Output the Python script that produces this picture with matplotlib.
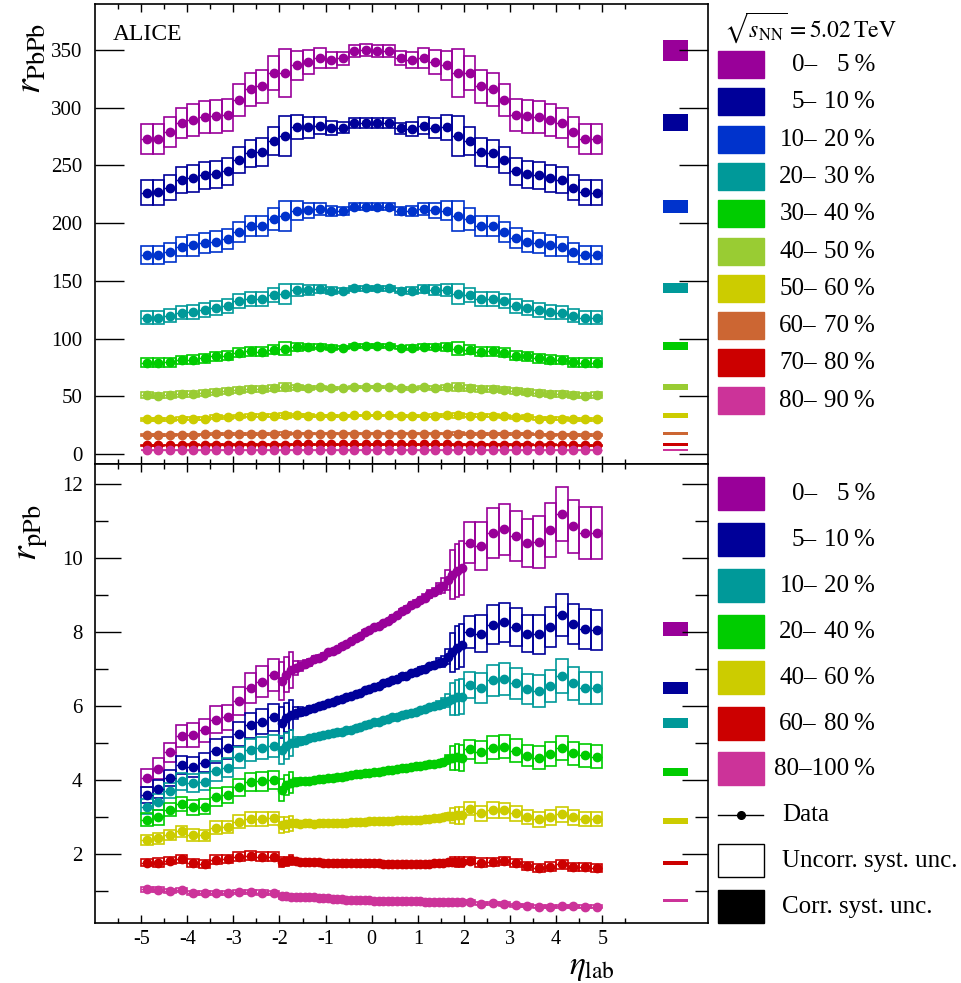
import numpy as np
import matplotlib
matplotlib.use("Agg")
import matplotlib.pyplot as plt
from matplotlib.patches import Rectangle
from matplotlib.lines import Line2D
from matplotlib.ticker import MultipleLocator

plt.rcParams['font.family'] = ['Liberation Serif', 'DejaVu Serif']
plt.rcParams['mathtext.fontset'] = 'stix'
plt.rcParams['axes.unicode_minus'] = False

# ---------------- Pb-Pb (top) ----------------
eta_pbpb = np.arange(-4.875, 5.0, 0.25)
w_pbpb = 0.25

cent_pbpb_lo = [0, 5, 10, 20, 30, 40, 50, 60, 70, 80]
cent_pbpb_hi = [5, 10, 20, 30, 40, 50, 60, 70, 80, 90]
col_pbpb = ['#990099', '#000099', '#0033cc', '#009999', '#00cc00',
            '#99cc33', '#cccc00', '#cc6633', '#cc0000', '#cc3399']

pb_0_5 = [273.0, 273.0, 279.0, 287.0, 289.4, 291.8, 292.6, 293.8, 307.0, 316.0,
          318.6, 330.0, 330.4, 336.8, 339.7, 343.0, 341.4, 342.9, 349.2, 349.8,
          349.5, 349.2, 343.0, 341.4, 343.0, 339.7, 336.8, 330.4, 330.4, 318.6,
          316.0, 307.0, 293.8, 292.6, 291.8, 289.4, 287.0, 279.0, 273.0, 273.0]
pb_5_10 = [226.4, 226.6, 230.5, 237.4, 238.9, 241.5, 242.4, 245.0, 254.5, 260.6,
           261.7, 271.0, 275.8, 283.4, 283.0, 284.5, 282.3, 282.6, 287.1, 287.0,
           287.0, 287.1, 282.3, 281.5, 284.5, 282.6, 283.0, 275.8, 271.0, 261.7,
           260.6, 254.5, 245.0, 242.4, 241.5, 238.9, 237.4, 230.5, 226.6, 226.4]
pb_10_20 = [172.4, 172.4, 175.0, 179.6, 180.8, 182.6, 184.0, 186.3, 192.6, 197.6,
            197.6, 203.6, 206.2, 210.8, 211.2, 212.3, 210.3, 210.6, 214.3, 214.3,
            214.3, 214.3, 210.6, 210.3, 212.3, 211.2, 210.8, 206.2, 203.6, 197.6,
            197.6, 192.6, 186.9, 184.0, 182.6, 180.8, 179.6, 175.0, 172.4, 172.4]
pb_20_30 = [118.1, 118.0, 119.6, 122.2, 123.3, 124.8, 126.2, 128.0, 132.3, 134.6,
            134.4, 137.5, 138.4, 142.1, 142.1, 143.0, 141.5, 141.5, 143.8, 143.8,
            143.8, 143.8, 141.5, 141.5, 143.0, 142.1, 142.1, 138.4, 137.5, 134.4,
            134.6, 132.3, 128.0, 126.2, 124.8, 123.3, 122.2, 119.6, 118.0, 118.1]
pb_30_40 = [79.1, 79.0, 79.3, 81.5, 81.6, 82.9, 84.6, 85.2, 87.8, 89.0,
            88.7, 90.4, 91.3, 93.0, 92.7, 93.0, 92.1, 92.1, 93.6, 93.6,
            93.6, 93.6, 92.1, 92.1, 93.0, 92.7, 93.0, 91.3, 90.4, 88.7,
            89.0, 87.8, 85.2, 84.6, 82.9, 81.6, 81.5, 79.3, 79.0, 79.1]
pb_40_50 = [51.1, 50.6, 50.9, 52.0, 52.0, 52.6, 53.5, 54.3, 55.7, 56.6,
            56.6, 57.2, 57.8, 57.9, 57.5, 57.8, 56.9, 57.2, 57.8, 57.8,
            57.8, 57.8, 57.2, 56.9, 57.8, 57.5, 57.9, 57.8, 57.2, 56.6,
            56.6, 55.7, 54.3, 53.5, 52.6, 52.0, 52.0, 50.9, 50.6, 51.1]
pb_50_60 = [30.0, 29.9, 29.9, 30.6, 30.6, 30.7, 31.8, 31.8, 32.6, 33.2,
            33.2, 33.2, 33.5, 33.5, 33.2, 33.2, 33.0, 33.0, 33.4, 33.4,
            33.4, 33.4, 33.0, 33.0, 33.2, 33.2, 33.5, 33.5, 33.2, 33.2,
            33.2, 32.6, 31.8, 31.8, 30.7, 30.6, 30.6, 29.9, 29.9, 30.0]
pb_60_70 = [16.5, 16.5, 16.6, 16.8, 16.8, 16.9, 17.0, 17.1, 17.3, 17.4,
            17.4, 17.5, 17.5, 17.6, 17.6, 17.6, 17.5, 17.5, 17.6, 17.6,
            17.6, 17.6, 17.5, 17.5, 17.6, 17.6, 17.6, 17.5, 17.5, 17.4,
            17.4, 17.3, 17.1, 17.0, 16.9, 16.8, 16.8, 16.6, 16.5, 16.5]
pb_70_80 = [7.6, 7.6, 7.7, 7.8, 7.8, 7.8, 7.9, 7.9, 8.0, 8.1,
            8.1, 8.1, 8.1, 8.2, 8.2, 8.2, 8.2, 8.2, 8.2, 8.2,
            8.2, 8.2, 8.2, 8.2, 8.2, 8.2, 8.2, 8.1, 8.1, 8.1,
            8.1, 8.0, 7.9, 7.9, 7.8, 7.8, 7.8, 7.7, 7.6, 7.6]
pb_80_90 = [3.2, 3.2, 3.2, 3.3, 3.3, 3.3, 3.3, 3.4, 3.4, 3.4,
            3.4, 3.5, 3.5, 3.5, 3.5, 3.5, 3.5, 3.5, 3.5, 3.5,
            3.5, 3.5, 3.5, 3.5, 3.5, 3.5, 3.5, 3.5, 3.5, 3.4,
            3.4, 3.4, 3.4, 3.3, 3.3, 3.3, 3.3, 3.2, 3.2, 3.2]

# uncorrelated syst. (relative, %) per eta bin
syst_pbpb = [4.7, 4.7, 4.7, 4.6, 4.9, 4.8, 4.8, 4.7, 4.5, 4.5,
             4.5, 4.5, 6.3, 3.8, 3.1, 2.6, 2.1, 1.7, 1.5, 1.5,
             1.5, 1.5, 1.7, 2.1, 2.6, 3.1, 3.8, 6.3, 4.5, 4.5,
             4.5, 4.5, 4.7, 4.8, 4.8, 4.9, 4.6, 4.7, 4.7, 4.7]
# correlated syst. (absolute)
corr_pbpb = [8.7, 7.2, 5.6, 4.0, 3.3, 2.5, 1.9, 1.4, 1.0, 0.8]

# ---------------- p-Pb (bottom) ----------------
eta_ppb = np.concatenate([np.arange(-4.875, -2.0, 0.25),
                          np.round(np.arange(-1.95, 2.0, 0.1), 2),
                          np.arange(2.125, 5.0, 0.25)])
w_ppb = np.concatenate([np.full(12, 0.25), np.full(40, 0.1), np.full(12, 0.25)])

cent_ppb_lo = [0, 5, 10, 20, 40, 60, 80]
cent_ppb_hi = [5, 10, 20, 40, 60, 80, 100]
col_ppb = ['#990099', '#000099', '#009999', '#00cc00', '#cccc00', '#cc0000', '#cc3399']

pp_0_5 = [4.05, 4.31, 4.75, 5.20, 5.22, 5.34, 5.63, 5.69, 6.14, 6.49, 6.66, 6.84,
          6.68, 6.85, 6.97, 7.03, 7.08, 7.14, 7.18, 7.27, 7.31, 7.36,
          7.45, 7.49, 7.55, 7.63, 7.67, 7.75, 7.85, 7.90, 7.99, 8.05,
          8.13, 8.17, 8.25, 8.30, 8.39, 8.45, 8.56, 8.63, 8.73, 8.79,
          8.87, 8.93, 9.03, 9.09, 9.18, 9.25, 9.41, 9.55, 9.66, 9.74,
          10.41, 10.33, 10.67, 10.77, 10.60, 10.41, 10.44, 10.76, 11.19, 10.86, 10.68, 10.67]
pp_5_10 = [3.59, 3.75, 4.05, 4.41, 4.36, 4.47, 4.78, 4.87, 5.23, 5.48, 5.58, 5.69,
           5.55, 5.68, 5.76, 5.80, 5.85, 5.87, 5.93, 5.95, 6.01, 6.03,
           6.08, 6.10, 6.16, 6.18, 6.23, 6.26, 6.32, 6.35, 6.42, 6.45,
           6.52, 6.55, 6.62, 6.64, 6.71, 6.73, 6.80, 6.82, 6.89, 6.91,
           6.98, 7.01, 7.07, 7.10, 7.17, 7.20, 7.33, 7.45, 7.58, 7.64,
           8.00, 7.95, 8.20, 8.26, 8.14, 7.95, 7.94, 8.13, 8.46, 8.21, 8.08, 8.05]
pp_10_20 = [3.28, 3.41, 3.71, 3.96, 3.91, 3.95, 4.24, 4.33, 4.61, 4.81, 4.86, 4.92,
            4.81, 4.92, 4.99, 5.02, 5.06, 5.08, 5.13, 5.15, 5.19, 5.21,
            5.24, 5.26, 5.29, 5.30, 5.34, 5.36, 5.41, 5.43, 5.48, 5.51,
            5.56, 5.58, 5.63, 5.65, 5.69, 5.71, 5.76, 5.78, 5.82, 5.84,
            5.89, 5.91, 5.97, 5.99, 6.04, 6.07, 6.14, 6.20, 6.23, 6.25,
            6.57, 6.49, 6.69, 6.74, 6.61, 6.45, 6.41, 6.54, 6.81, 6.61, 6.49, 6.48]
pp_20_40 = [2.92, 2.99, 3.19, 3.35, 3.26, 3.28, 3.54, 3.60, 3.80, 3.94, 3.96, 4.00,
            3.73, 3.86, 3.93, 3.94, 3.96, 3.96, 3.98, 3.99, 4.02, 4.03,
            4.05, 4.06, 4.08, 4.09, 4.12, 4.13, 4.16, 4.17, 4.19, 4.20,
            4.22, 4.22, 4.25, 4.26, 4.28, 4.29, 4.32, 4.33, 4.36, 4.37,
            4.39, 4.40, 4.42, 4.43, 4.45, 4.48, 4.56, 4.60, 4.62, 4.60,
            4.83, 4.75, 4.87, 4.90, 4.79, 4.66, 4.60, 4.70, 4.86, 4.72, 4.67, 4.63]
pp_40_60 = [2.38, 2.42, 2.51, 2.62, 2.51, 2.51, 2.71, 2.74, 2.87, 2.95, 2.95, 2.96,
            2.78, 2.80, 2.83, 2.83, 2.82, 2.83, 2.83, 2.82, 2.83, 2.84,
            2.84, 2.83, 2.84, 2.85, 2.85, 2.86, 2.86, 2.87, 2.87, 2.88,
            2.88, 2.89, 2.90, 2.90, 2.90, 2.91, 2.91, 2.92, 2.92, 2.92,
            2.93, 2.94, 2.95, 2.96, 2.97, 2.99, 3.02, 3.04, 3.05, 3.05,
            3.23, 3.10, 3.19, 3.18, 3.10, 3.01, 2.94, 2.99, 3.08, 2.99, 2.95, 2.95]
pp_60_80 = [1.77, 1.77, 1.82, 1.86, 1.75, 1.73, 1.84, 1.86, 1.93, 1.96, 1.93, 1.93,
            1.79, 1.80, 1.84, 1.80, 1.79, 1.79, 1.78, 1.78, 1.78, 1.77,
            1.77, 1.76, 1.76, 1.76, 1.75, 1.75, 1.75, 1.75, 1.75, 1.75,
            1.75, 1.75, 1.74, 1.74, 1.74, 1.74, 1.73, 1.73, 1.73, 1.73,
            1.73, 1.74, 1.74, 1.75, 1.76, 1.77, 1.78, 1.79, 1.79, 1.79,
            1.82, 1.77, 1.79, 1.81, 1.75, 1.68, 1.63, 1.66, 1.72, 1.66, 1.64, 1.63]
pp_80_100 = [1.05, 1.03, 1.01, 1.03, 0.95, 0.94, 0.95, 0.95, 0.98, 0.98, 0.96, 0.95,
             0.86, 0.86, 0.85, 0.85, 0.84, 0.84, 0.83, 0.83, 0.82, 0.81,
             0.80, 0.79, 0.78, 0.78, 0.77, 0.76, 0.76, 0.75, 0.75, 0.75,
             0.74, 0.74, 0.74, 0.73, 0.73, 0.73, 0.72, 0.72, 0.72, 0.72,
             0.72, 0.71, 0.71, 0.71, 0.71, 0.71, 0.71, 0.71, 0.71, 0.70,
             0.71, 0.65, 0.67, 0.65, 0.62, 0.60, 0.58, 0.58, 0.59, 0.59, 0.58, 0.58]

syst_ppb = [6.0, 6.5, 5.5, 5.7, 6.2, 5.9, 6.6, 6.0, 6.2, 6.2, 6.2, 6.2,
            7.7, 6.9, 7.0, 2.8, 2.0, 1.5, 1.2, 1.0, 0.9, 0.8,
            0.8, 0.8, 0.7, 0.7, 0.7, 0.7, 0.7, 0.7, 0.7, 0.7,
            0.7, 0.7, 0.7, 0.7, 0.7, 0.7, 0.8, 0.8, 0.8, 0.9,
            0.9, 1.0, 1.1, 1.2, 1.6, 2.2, 2.8, 7.0, 7.5, 7.5,
            5.3, 6.3, 6.4, 6.4, 6.4, 6.3, 6.7, 6.7, 6.6, 6.6, 6.6, 6.6]
corr_ppb = [0.19, 0.17, 0.135, 0.11, 0.08, 0.054, 0.036]

series_pbpb = [pb_0_5, pb_5_10, pb_10_20, pb_20_30, pb_30_40,
               pb_40_50, pb_50_60, pb_60_70, pb_70_80, pb_80_90]
series_ppb = [pp_0_5, pp_5_10, pp_10_20, pp_20_40, pp_40_60, pp_60_80, pp_80_100]

corr_x = 6.585
corr_w = 0.53


def draw(ax, x, w, y, rel, color):
    y = np.asarray(y)
    err = y * np.asarray(rel) / 100.0
    ax.bar(x, 2 * err, bottom=y - err, width=w, fill=False, edgecolor=color,
           linewidth=1.2, zorder=2)
    ax.errorbar(x, y, xerr=np.asarray(w) / 2, fmt='o', color=color, ms=6,
                elinewidth=0.9, capsize=0, zorder=3)


fig = plt.figure(figsize=(9.62, 9.83), dpi=100)
ax1 = fig.add_axes([0.0988, 0.528, 0.6375, 0.468])
ax2 = fig.add_axes([0.0988, 0.061, 0.6375, 0.467])

for y, c, cs in zip(series_pbpb, col_pbpb, corr_pbpb):
    draw(ax1, eta_pbpb, w_pbpb, y, syst_pbpb, c)
    mid = np.mean(y[19:21])
    ax1.bar(corr_x, 2 * cs, bottom=mid - cs, width=corr_w, color=c, linewidth=0)

for y, c, cs in zip(series_ppb, col_ppb, corr_ppb):
    draw(ax2, eta_ppb, w_ppb, y, syst_ppb, c)
    mid = np.mean(y[31:33])
    ax2.bar(corr_x, 2 * cs, bottom=mid - cs, width=corr_w, color=c, linewidth=0)

for ax in (ax1, ax2):
    ax.set_xlim(-6.0, 7.3)
    ax.set_xticks(range(-5, 6))
    ax.xaxis.set_minor_locator(matplotlib.ticker.FixedLocator(np.arange(-5.5, 6.0, 1.0)))
    ax.tick_params(axis='x', which='major', direction='in', top=True, bottom=True,
                   length=6, width=1.0, labelsize=14.5, pad=5)
    ax.tick_params(axis='x', which='minor', direction='in', top=True, bottom=True,
                   length=3.3, width=1.0)
    for s in ax.spines.values():
        s.set_linewidth(1.2)

ax1.set_ylim(-8.7, 390)
ax1.yaxis.set_major_locator(MultipleLocator(50))
ax1.tick_params(axis='y', which='major', direction='in', left=True, right=True,
                length=21, width=1.0, labelsize=15, pad=9)
ax1.tick_params(axis='x', labelbottom=False)

ax2.set_ylim(0.135, 12.54)
ax2.yaxis.set_major_locator(MultipleLocator(2))
ax2.yaxis.set_minor_locator(MultipleLocator(1))
ax2.tick_params(axis='y', which='major', direction='in', left=True, right=True,
                length=19, width=1.0, labelsize=15, pad=9)
ax2.tick_params(axis='y', which='minor', direction='in', left=True, right=True,
                length=9.5, width=1.0)

# overlay in pixel coordinates for labels and legends
lax = fig.add_axes([0, 0, 1, 1])
lax.set_xlim(0, 962)
lax.set_ylim(983, 0)
lax.axis('off')

lax.text(113, 34, 'ALICE', fontsize=17, va='center', ha='left')
lax.text(32, 58, r'$r_{\mathrm{PbPb}}$', fontsize=27, rotation=90, ha='center', va='center')
lax.text(33, 533, r'$r_{\mathrm{pPb}}$', fontsize=27, rotation=90, ha='center', va='center')
lax.text(592, 974, r'$\eta_{\mathrm{lab}}$', fontsize=24, ha='center', va='baseline')

lax.text(724, 28, r'$\sqrt{s_{\mathrm{NN}}} = 5.02\,\mathrm{TeV}$', fontsize=17,
         ha='left', va='center')


def cent_label(yc, lo, hi):
    if hi >= 100:
        lax.text(875, yc, f'{lo}\u2013{hi}\u2009%', fontsize=fs_leg, ha='right', va='center')
    else:
        lax.text(817, yc, f'{lo}\u2013', fontsize=fs_leg, ha='right', va='center')
        lax.text(875, yc, f'{hi}\u2009%', fontsize=fs_leg, ha='right', va='center')


fs_leg = 18
for i, (lo, hi, c) in enumerate(zip(cent_pbpb_lo, cent_pbpb_hi, col_pbpb)):
    y0 = 51 + 37.3 * i
    lax.add_patch(Rectangle((718, y0), 46, 27, color=c))
    cent_label(y0 + 14, lo, hi)

for i, (lo, hi, c) in enumerate(zip(cent_ppb_lo, cent_ppb_hi, col_ppb)):
    y0 = 477 + 45.9 * i
    lax.add_patch(Rectangle((718, y0), 46, 33, color=c))
    cent_label(y0 + 17, lo, hi)

y0 = 477 + 45.9 * 7
lax.add_line(Line2D([718, 763], [y0 + 16.5, y0 + 16.5], color='black', lw=1.0))
lax.plot([741], [y0 + 16.5], 'o', color='black', ms=5.5)
lax.text(782, y0 + 16.5, 'Data', fontsize=fs_leg, ha='left', va='center')

y0 = 477 + 45.9 * 8
lax.add_patch(Rectangle((718, y0), 46, 33, facecolor='white', edgecolor='black', lw=1.0))
lax.text(782, y0 + 17, 'Uncorr. syst. unc.', fontsize=fs_leg, ha='left', va='center')

y0 = 477 + 45.9 * 9
lax.add_patch(Rectangle((718, y0), 46, 33, color='black'))
lax.text(782, y0 + 17, 'Corr. syst. unc.', fontsize=fs_leg, ha='left', va='center')

fig.savefig('out.png', dpi=100)
